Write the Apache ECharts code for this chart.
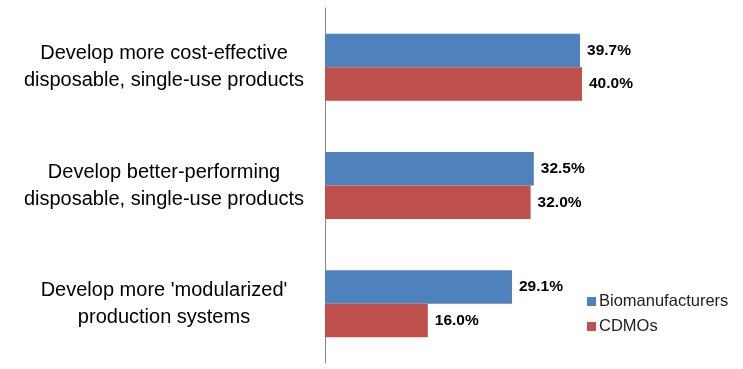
<!DOCTYPE html>
<html><head><meta charset="utf-8">
<script src="https://cdn.jsdelivr.net/npm/echarts@6/dist/echarts.min.js"></script>
<style>html,body{margin:0;padding:0;background:#fff}#c{width:743px;height:369px}</style>
</head><body><div id="c"></div>
<script>
var categories = [
  "Develop more cost-effective\ndisposable, single-use products",
  "Develop better-performing\ndisposable, single-use products",
  "Develop more 'modularized'\nproduction systems"
];
var seriesNames = ["Biomanufacturers", "CDMOs"];
var biomanufacturers = [39.7, 32.5, 29.1];
var cdmos = [40.0, 32.0, 16.0];

var chart = echarts.init(document.getElementById('c'));
var labelCfg = {
  show: true, position: 'right', distance: 7,
  formatter: function(p){ return p.value.toFixed(1) + '%'; },
  fontFamily: 'Liberation Sans', fontWeight: 'bold', fontSize: 15.5, color: '#000'
};
chart.setOption({
  animation: false,
  grid: { left: 325, top: 8, bottom: 6, width: 321.25 },
  xAxis: { type: 'value', min: 0, max: 50, show: false },
  yAxis: {
    type: 'category', data: categories, inverse: true,
    axisLine: { show: true, lineStyle: { color: '#868686', width: 1 } },
    axisTick: { show: false },
    axisLabel: { align: 'center', margin: 161, fontFamily: 'Liberation Sans', fontSize: 20, lineHeight: 27, color: '#000' }
  },
  legend: {
    orient: 'vertical', left: 582, top: 288, itemWidth: 9, itemHeight: 9, itemGap: 8,
    icon: 'rect',
    textStyle: { fontFamily: 'Liberation Sans', fontSize: 16.5, color: '#222', padding: [0,0,0,-2] },
    data: seriesNames
  },
  series: [
    { name: seriesNames[0], type: 'bar', data: biomanufacturers, barGap: '0%', barCategoryGap: '43.4%',
      itemStyle: { color: '#4F81BD' }, label: labelCfg },
    { name: seriesNames[1], type: 'bar', data: cdmos, barGap: '0%', barCategoryGap: '43.4%',
      itemStyle: { color: '#C0504D' }, label: labelCfg }
  ]
});
</script></body></html>
